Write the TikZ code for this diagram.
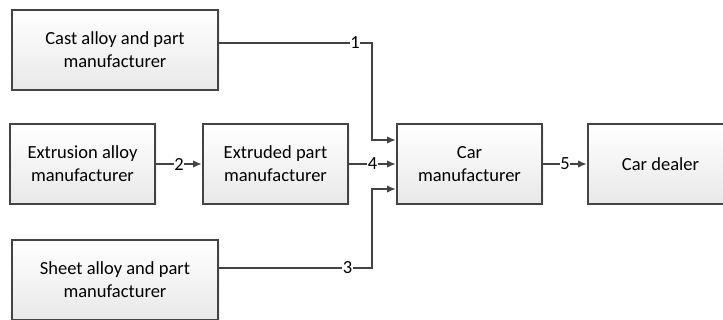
\documentclass[tikz,border=0pt]{standalone}
\usepackage{fontspec}
\setmainfont{Carlito}
\usetikzlibrary{arrows.meta,shadows,calc}
\definecolor{linegray}{HTML}{434343}
\begin{document}
\begin{tikzpicture}[x=1pt,y=-1pt,
  box/.style={draw=linegray, line width=2pt, top color=white, bottom color=black!9,
    drop shadow={opacity=0.12, shadow xshift=1.5pt, shadow yshift=-1.5pt},
    inner sep=2pt, align=center, font=\fontsize{18.5}{23}\selectfont, minimum height=80pt},
  conn/.style={draw=linegray, line width=2pt, -{Latex[length=9pt,width=7.5pt]}},
  lbl/.style={fill=white, inner sep=0.6pt, font=\fontsize{18.5}{20}\selectfont, text=black}]
\useasboundingbox (0,0) rectangle (723,320);
\node[box, minimum width=206pt] (cast) at (115,50) {Cast alloy and part\\manufacturer};
\node[box, minimum width=145pt] (extr) at (82.5,164) {Extrusion alloy\\manufacturer};
\node[box, minimum width=145pt] (extd) at (275.5,164) {Extruded part\\manufacturer};
\node[box, minimum width=145pt] (car) at (469.5,164) {Car\\manufacturer};
\node[box, minimum width=145pt] (dealer) at (660.5,164) {Car dealer};
\node[box, minimum width=206pt] (sheet) at (115,280) {Sheet alloy and part\\manufacturer};
\coordinate (j1) at (372,43);
\coordinate (j3) at (372,268);
\coordinate (in1) at ($(car.west)+(0,-24)$);
\coordinate (in3) at ($(car.west)+(0,25)$);
\draw[conn] (cast.east |- j1) -- node[lbl, pos=0.89]{1} (j1) -- (j1 |- in1) -- (in1);
\draw[conn] (sheet.east |- j3) -- node[lbl, pos=0.84]{3} (j3) -- (j3 |- in3) -- (in3);
\draw[conn] (extr.east) -- node[lbl]{2} (extd.west);
\draw[conn] (extd.east) -- node[lbl]{4} (car.west);
\draw[conn] (car.east) -- node[lbl]{5} (dealer.west);
\end{tikzpicture}
\end{document}
